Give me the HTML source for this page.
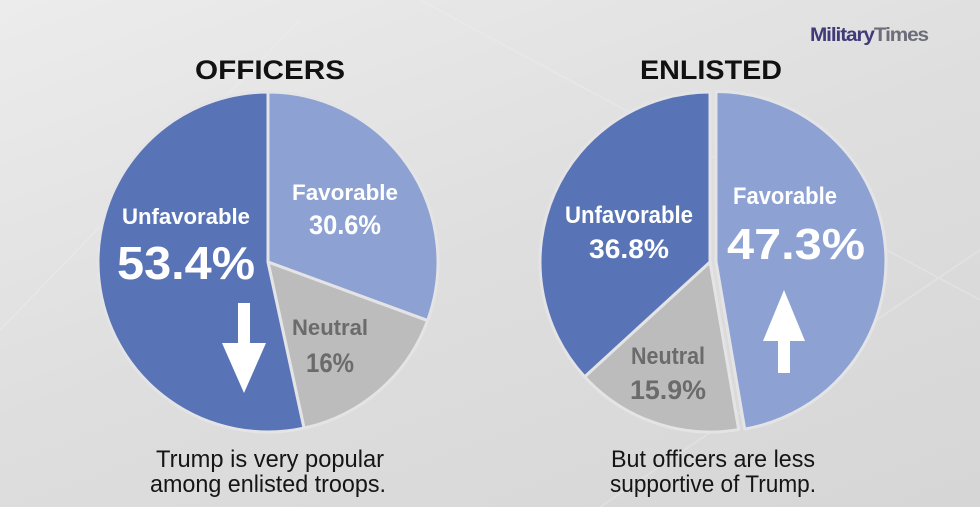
<!DOCTYPE html>
<html><head><meta charset="utf-8"><style>
html,body{margin:0;padding:0;width:980px;height:507px;overflow:hidden;}
body{background:linear-gradient(160deg,#ececec 0%,#dedede 50%,#d6d6d6 100%);font-family:"Liberation Sans",sans-serif;}
</style></head><body>
<svg id="chart" width="980" height="507" viewBox="0 0 980 507" xmlns="http://www.w3.org/2000/svg">
<g stroke="#f0f0f0" stroke-width="1.5" fill="none" opacity="0.35">
<line x1="0" y1="330" x2="300" y2="20"/><line x1="420" y1="0" x2="980" y2="300"/><line x1="600" y1="507" x2="980" y2="250"/>
</g>
<text x="810" y="41" font-size="19" font-weight="bold" letter-spacing="-1" textLength="118" lengthAdjust="spacingAndGlyphs"><tspan fill="#3f3a78">Military</tspan><tspan fill="#6c6c7a">Times</tspan></text>
<g id="pies"></g>
</svg>
<script>
const officerCategories = ["Favorable","Neutral","Unfavorable"];
const officerValues = [30.6, 16, 53.4];
const enlistedCategories = ["Favorable","Neutral","Unfavorable"];
const enlistedValues = [47.3, 15.9, 36.8];

const NS="http://www.w3.org/2000/svg";
const colors={Favorable:"#8da2d3",Neutral:"#bcbcbc",Unfavorable:"#5874b6"};
const g=document.getElementById('pies');
function mk(tag,attrs,parent){const e=document.createElementNS(NS,tag);for(const k in attrs)e.setAttribute(k,attrs[k]);(parent||g).appendChild(e);return e;}
function pt(cx,cy,r,a){return [cx+r*Math.sin(a),cy-r*Math.cos(a)];}
function txt(parent,x,y,s,size,fill,w,name){
  const t=mk('text',{x:x,y:y,'font-size':size,'font-weight':'bold',fill:fill,'text-anchor':'middle'},parent);
  if(w){t.setAttribute('textLength',w);t.setAttribute('lengthAdjust','spacingAndGlyphs');}
  
  
  t.textContent=s;return t;
}
function drawPie(cx,cy,r,cats,vals,name,explode,labels){
  const grp=mk('g',{});
  
  
  const total=vals.reduce((a,b)=>a+b,0);
  let a0=0;
  cats.forEach((c,i)=>{
    const a1=a0+vals[i]/total*2*Math.PI;
    const mid=(a0+a1)/2, ex=explode[c]||0;
    const ox=ex*Math.sin(mid), oy=-ex*Math.cos(mid);
    const p0=pt(cx+ox,cy+oy,r,a0), p1=pt(cx+ox,cy+oy,r,a1);
    const large=(a1-a0)>Math.PI?1:0;
    const p=mk('path',{d:`M${cx+ox},${cy+oy} L${p0[0]},${p0[1]} A${r},${r} 0 ${large} 1 ${p1[0]},${p1[1]} Z`,fill:colors[c],stroke:"#e4e4e6",'stroke-width':3,'stroke-linejoin':'round'},grp);
    
    
    const L=labels[c];
    const fill=c==="Neutral"?"#6b6b6b":"#ffffff";
    txt(grp,L[0],L[1],c,L[2],fill,L[3],'label-'+c.toLowerCase());
    txt(grp,L[0]+(L[7]||0),L[1]+L[5],vals[i]+"%",L[4],fill,L[6],'value-'+c.toLowerCase());
    a0=a1;
  });
  return grp;
}
const og=drawPie(268,262,170,officerCategories,officerValues,'officers-pie',{},
 {Favorable:[345,200,22,106,27,34,72],Neutral:[330,335,22,76,27,37,48],Unfavorable:[186,224,22,128,46,55,138]});
const eg=drawPie(710,262,170,enlistedCategories,enlistedValues,'enlisted-pie',{Favorable:6},
 {Favorable:[785,204,24,104,44,55,138,11],Neutral:[668,364,24,74,27,35,76],Unfavorable:[629,223,24,128,27,35,80]});
let ar=mk('polygon',{points:"238,303 250,303 250,343 266,343 244,393 222,343 238,343",fill:"#fff"});


ar=mk('polygon',{points:"778,373 790,373 790,341 805,341 784,290 763,341 778,341",fill:"#fff"});


txt(g,270,79,"OFFICERS",27,"#111",150,'officers-title');
txt(g,711,79,"ENLISTED",27,"#111",142,'enlisted-title');
function cap(x,y,s,w,name){const t=mk('text',{x:x,y:y,'font-size':24,fill:'#151515','text-anchor':'middle',textLength:w,lengthAdjust:'spacingAndGlyphs'});t.textContent=s;}
cap(270,467,"Trump is very popular",228,'officers-caption-line1');
cap(268,492,"among enlisted troops.",236,'officers-caption-line2');
cap(713,467,"But officers are less",204,'enlisted-caption-line1');
cap(713,492,"supportive of Trump.",206,'enlisted-caption-line2');
</script>
</body></html>
